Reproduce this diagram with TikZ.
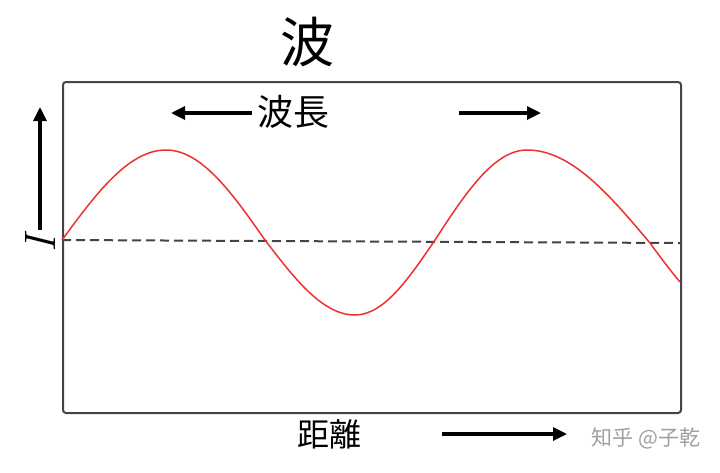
\documentclass[tikz,border=0pt]{standalone}
\usepackage{fontspec}
\newfontfamily\cjk{Noto Sans CJK JP}
\usetikzlibrary{arrows.meta}
\definecolor{boxgray}{HTML}{444444}
\definecolor{wavered}{HTML}{F03030}
\definecolor{dashgray}{HTML}{444444}
\definecolor{wmgray}{HTML}{A0A0A0}
\tikzset{
  arr/.style={line width=3.2pt,-{Triangle[length=14pt,width=13pt]}},
  cjktext/.style={font=\cjk, inner sep=0pt, text=black},
}
\begin{document}
\begin{tikzpicture}[x=1pt,y=-1pt]
\useasboundingbox (0,0) rectangle (720,472);
\fill[white] (0,0) rectangle (720,472);
% frame
\node[draw=boxgray, line width=2pt, rounded corners=3pt, minimum width=618pt, minimum height=331pt, inner sep=0pt, anchor=north west] (frame) at (62,81) {};
% title
\node[cjktext, font=\cjk\fontsize{54}{54}\selectfont] (title) at (307,42) {波};
% wavelength label and arrows
\node[cjktext, font=\cjk\fontsize{36}{36}\selectfont] (wl) at (293,112) {波長};
\coordinate (wlS) at (252,113);
\coordinate (wlL) at (171,113);
\coordinate (wlR0) at (459,113);
\coordinate (wlR) at (541,113);
\draw[arr] (wlS) -- (wlL);
\draw[arr] (wlR0) -- (wlR);
% vertical axis arrow and label
\node[font=\fontsize{44}{44}\selectfont\itshape, rotate=90, inner sep=0pt] (I) at (40,244) {I};
\coordinate (vbot) at (40,230);
\coordinate (vtop) at (40,107);
\draw[arr] (vbot) -- (vtop);
% distance label and arrow
\node[cjktext, font=\cjk\fontsize{32}{32}\selectfont] (dist) at (329,434) {距離};
\coordinate (dA) at (442,434);
\coordinate (dB) at (567,434);
\draw[arr] (dA) -- (dB);
% watermark
\node[font=\cjk\fontsize{21}{21}\selectfont, text=wmgray, inner sep=0pt] (wm) at (646,438) {知乎 @子乾};
% dashed axis
\draw[dashgray, line width=2pt, dash pattern=on 9pt off 5pt] (62,240) -- (680,243);
% wave
\draw[wavered, line width=1.5pt]
  (62,240) sin (166,150) cos (265,240) sin (355,315) cos (435,240) sin (527,150) cos (650,243);
\draw[wavered, line width=1.5pt, domain=0:30, samples=20]
  plot ({650+\x}, {243+78*sin(\x)});
\end{tikzpicture}
\end{document}
